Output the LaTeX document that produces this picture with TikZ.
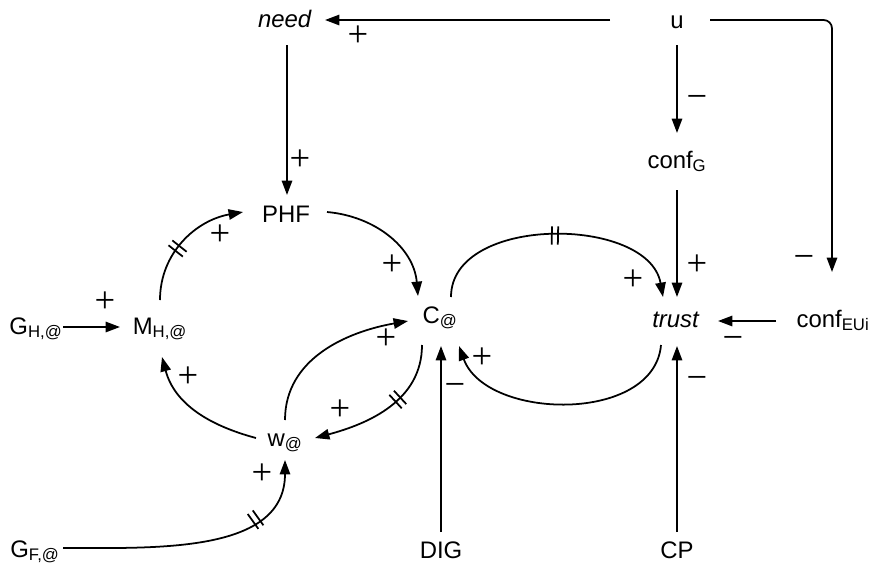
\documentclass[tikz,border=0pt]{standalone}
\usepackage{fontspec}
\setmainfont{Liberation Sans}
\newfontfamily\signfont{Liberation Serif}
\usetikzlibrary{arrows.meta,calc,decorations.markings}

\tikzset{
  var/.style={inner sep=0pt, anchor=base, font=\fontsize{17}{19}\selectfont},
  link/.style={line width=1.25pt, -{Triangle[length=0.36cm,width=0.26cm]}},
  sign/.style={inner sep=0pt, font=\signfont\fontsize{26}{26}\selectfont},
  % two short strokes across a link mark a delay
  delay/.style={postaction={decorate, decoration={markings,
    mark=at position #1 with {\draw[line width=1.25pt,-] (-2.2pt,-6.5pt) -- (-2.2pt,6.5pt) (2.2pt,-6.5pt) -- (2.2pt,6.5pt);}}}}
}

\begin{document}
\begin{tikzpicture}[x=0.025cm, y=-0.025cm]
  \useasboundingbox (0,0) rectangle (875,567);

  % variables, each set on its baseline
  \node[var] (need)    at (285,27)  {\textit{need}};
  \node[var] (u)       at (677,28)  {u};
  \node[var] (confG)   at (677,168) {conf\textsubscript{G}};
  \node[var] (PHF)     at (286,222) {PHF};
  \node[var] (C)       at (440,323) {C\textsubscript{@}};
  \node[var] (trust)   at (676,327) {\textit{trust}};
  \node[var] (confEUi) at (833,327) {conf\textsubscript{EUi}};
  \node[var] (GH)      at (36,334)  {G\textsubscript{H,@}};
  \node[var] (MH)      at (160,334) {M\textsubscript{H,@}};
  \node[var] (w)       at (285,446) {w\textsubscript{@}};
  \node[var] (GF)      at (35,557)  {G\textsubscript{F,@}};
  \node[var] (DIG)     at (441,558) {DIG};
  \node[var] (CP)      at (677,558) {CP};

  % straight links
  \draw[link] ($(u.base)+(-67,-8)$) -- ($(need.base)+(40,-7)$);
  \draw[link, rounded corners=6pt] ($(u.base)+(33,-8)$) -| ($(confEUi.base)+(-1,-55)$);
  \draw[link] ($(u.base)+(0,17)$) -- ($(confG.base)+(0,-35)$);
  \draw[link] ($(confG.base)+(0,22)$) -- ($(trust.base)+(1,-30)$);
  \draw[link] ($(need.base)+(2,18)$) -- ($(PHF.base)+(1,-27)$);
  \draw[link] ($(GH.base)+(27,-7)$) -- ($(MH.base)+(-40,-7)$);
  \draw[link] ($(confEUi.base)+(-57,-6)$) -- ($(trust.base)+(42,-6)$);
  \draw[link] ($(DIG.base)+(0,-26)$) -- ($(C.base)+(1,23)$);
  \draw[link] ($(CP.base)+(0,-26)$) -- ($(trust.base)+(1,19)$);

  % curved links
  \draw[link] ($(PHF.base)+(41,-10)$) to[out=-5, in=95] ($(C.base)+(-22,-27)$);
  \draw[link, delay=0.42] ($(MH.base)+(0,-34)$) to[out=90, in=190] ($(PHF.base)+(-43,-10)$);
  \draw[link] ($(w.base)+(-29,-8)$) to[out=165, in=-75] ($(MH.base)+(2,23)$);
  \draw[link] ($(w.base)+(0,-26)$) to[out=90, in=190] ($(C.base)+(-32,-2)$);
  \draw[link, delay=0.4] ($(C.base)+(-18,22)$) to[out=-90, in=15] ($(w.base)+(30,-8)$);
  \draw[link, delay=0.5] ($(C.base)+(11,-26)$) to[out=90, in=100] ($(trust.base)+(-13,-30)$);
  \draw[link] ($(trust.base)+(-15,18)$) to[out=-95, in=-70] ($(C.base)+(19,23)$);
  \draw[link, delay=0.74] ($(GF.base)+(28,-9)$) to[out=0, in=-90] ($(w.base)+(0,14)$);

  % polarity of each link
  \foreach \x/\y/\s [count=\i] in {358/36/+, 804/262/−, 697/102/−, 697/265/+,
      300/160/+, 392/265/+, 220/235/+, 105/302/+, 188/377/+, 386/339/+,
      340/410/+, 633/280/+, 482/358/+, 733/343/−, 455/390/−, 697/383/−, 262/474/+}
    \node[sign] (sgn\i) at (\x,\y) {\s};
\end{tikzpicture}
\end{document}
